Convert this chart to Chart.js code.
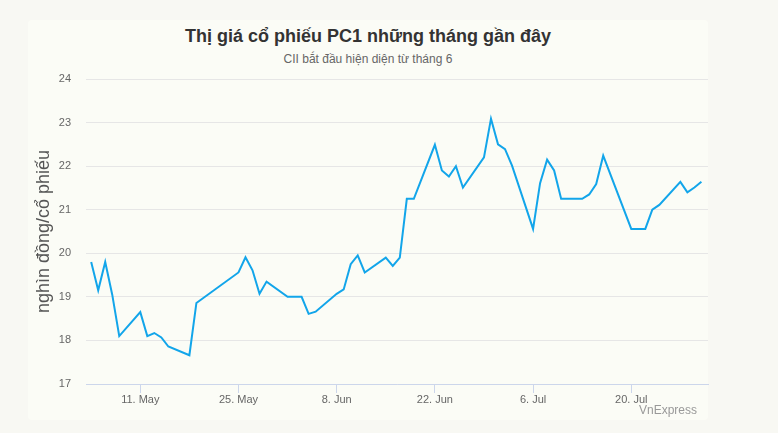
<!DOCTYPE html>
<html>
<head>
<meta charset="utf-8">
<script src="https://cdn.jsdelivr.net/npm/chart.js@4"></script>
<style>
    body { margin: 0; background: #f8f8f3; font-family: "Liberation Sans", Arial, sans-serif; }
    #wrap { position: relative; width: 778px; height: 433px; }
    #box { position: absolute; left: 28px; top: 20px; width: 680px; height: 400px; background: #fbfcf6; border-radius: 4px; }
    #chart { position: absolute; left: 0; top: 0; }
    .title { position: absolute; left: 28px; width: 680px; text-align: center; }
    #t1 { top: 26px; font-size: 18px; font-weight: bold; color: #333; }
    #t2 { top: 52px; font-size: 12px; color: #666; }
    #credit { position: absolute; right: 81px; top: 403px; font-size: 12px; color: #999; }
</style>
</head>
<body>
<div id="wrap">
    <div id="box"></div>
    <div class="title" id="t1">Thị giá cổ phiếu PC1 những tháng gần đây</div>
    <div class="title" id="t2">CII bắt đầu hiện diện từ tháng 6</div>
    <canvas id="chart" width="778" height="433"></canvas>
    <div id="credit">VnExpress</div>
</div>
<script>
// Giá đóng cửa (nghìn đồng/cổ phiếu), năm 2020
const dates = [
    '05-04', '05-05', '05-06', '05-07', '05-08', '05-11', '05-12', '05-13', '05-14', '05-15',
    '05-18', '05-19', '05-25', '05-26', '05-27', '05-28', '05-29', '06-01', '06-02', '06-03',
    '06-04', '06-05', '06-08', '06-09', '06-10', '06-11', '06-12', '06-15', '06-16', '06-17',
    '06-18', '06-19', '06-22', '06-23', '06-24', '06-25', '06-26', '06-29', '06-30', '07-01',
    '07-02', '07-03', '07-06', '07-07', '07-08', '07-09', '07-10', '07-13', '07-14', '07-15',
    '07-16', '07-20', '07-21', '07-22', '07-23', '07-24', '07-27', '07-28', '07-29', '07-30'
];
const prices = [
    19.8, 19.15, 19.8, 19.05, 18.1, 18.65, 18.1, 18.17, 18.07, 17.86,
    17.66, 18.86, 19.56, 19.91, 19.61, 19.07, 19.35, 19.0, 19.0, 19.0,
    18.61, 18.66, 19.07, 19.17, 19.75, 19.95, 19.56, 19.9, 19.71, 19.9,
    21.25, 21.25, 22.49, 21.9, 21.76, 22.0, 21.51, 22.2, 23.09, 22.5,
    22.39, 22.01, 20.56, 21.61, 22.15, 21.9, 21.25, 21.25, 21.35, 21.59,
    22.24, 20.56, 20.56, 20.56, 21.0, 21.11, 21.64, 21.4, 21.51, 21.64
];
const tickDates = ['05-11', '05-25', '06-08', '06-22', '07-06', '07-20'];
const tickLabels = ['11. May', '25. May', '8. Jun', '22. Jun', '6. Jul', '20. Jul'];
const yTicks = [17, 18, 19, 20, 21, 22, 23, 24];

// số ngày kể từ 30/4/2020
function dayNum(md) {
    const [m, d] = md.split('-').map(Number);
    return (Date.UTC(2020, m - 1, d) - Date.UTC(2020, 3, 30)) / 86400000;
}

const points = dates.map((d, i) => ({ x: dayNum(d), y: prices[i] }));
const tickDays = tickDates.map(dayNum);

const ctx = document.getElementById('chart').getContext('2d');
new Chart(ctx, {
    type: 'line',
    data: {
        datasets: [{
            data: points,
            borderColor: '#12a5ea',
            borderWidth: 2,
            pointRadius: 0,
            tension: 0,
            fill: false
        }]
    },
    options: {
        responsive: false,
        animation: false,
        layout: { padding: { left: 30, right: 70, top: 79, bottom: 19 } },
        plugins: {
            legend: { display: false },
            tooltip: { enabled: false }
        },
        scales: {
            x: {
                type: 'linear',
                min: 3.26,
                max: 91.94,
                afterBuildTicks: scale => {
                    scale.ticks = tickDays.map(v => ({ value: v }));
                },
                afterFit: scale => { scale.height = 30; },
                grid: {
                    drawOnChartArea: false,
                    drawTicks: true,
                    tickLength: 9,
                    tickColor: '#ccd6eb'
                },
                border: { color: '#ccd6eb', width: 1 },
                ticks: {
                    autoSkip: false,
                    maxRotation: 0,
                    padding: 0,
                    color: '#666',
                    font: { family: '"Liberation Sans", Arial, sans-serif', size: 11 },
                    callback: value => tickLabels[tickDays.indexOf(value)]
                }
            },
            y: {
                min: 17,
                max: 24,
                afterBuildTicks: scale => {
                    scale.ticks = yTicks.map(v => ({ value: v }));
                },
                afterFit: scale => { scale.width = 56; },
                grid: { color: '#e6e6e6', drawTicks: false },
                border: { display: false },
                ticks: {
                    padding: 15,
                    color: '#666',
                    font: { family: '"Liberation Sans", Arial, sans-serif', size: 11 }
                },
                title: {
                    display: true,
                    text: 'nghìn đồng/cổ phiếu',
                    color: '#555',
                    padding: { top: 3, bottom: 0 },
                    font: { family: '"Liberation Sans", Arial, sans-serif', size: 18 }
                }
            }
        }
    }
});
</script>
</body>
</html>
